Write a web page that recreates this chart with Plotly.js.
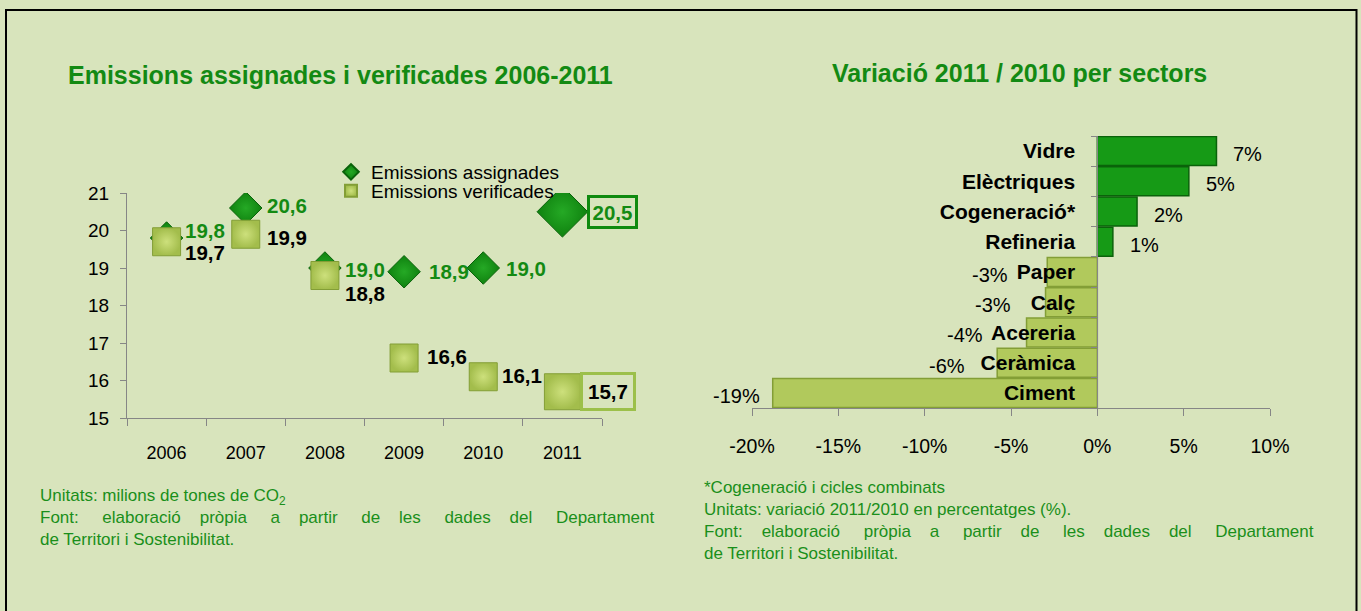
<!DOCTYPE html>
<html><head><meta charset="utf-8">
<script src="https://cdn.plot.ly/plotly-3.0.1.min.js"></script>
<style>html,body{margin:0;padding:0;background:#d8e4bc;} #chart{width:1361px;height:611px;}</style>
</head><body><div id="chart"></div>
<script>
// ---------- data ----------
const years = ['2006', '2007', '2008', '2009', '2010', '2011'];
const assignades = [19.8, 20.6, 19.0, 18.9, 19.0, 20.5];
const verificades = [19.7, 19.9, 18.8, 16.6, 16.1, 15.7];
const yTicks = [15, 16, 17, 18, 19, 20, 21];

const sectors = ['Vidre', 'Elèctriques', 'Cogeneració*', 'Refineria', 'Paper', 'Calç', 'Acereria', 'Ceràmica', 'Ciment'];
const variacio = [6.9, 5.3, 2.3, 0.9, -2.9, -3.0, -4.1, -5.8, -18.8];
const xTicks = [-20, -15, -10, -5, 0, 5, 10];

const titleLeft = 'Emissions assignades i verificades 2006-2011';
const titleRight = 'Variació 2011 / 2010 per sectors';
const notesLeft = ['Unitats: milions de tones de CO<sub>2</sub>',
  'Font: elaboració pròpia a partir de les dades del Departament',
  'de Territori i Sostenibilitat.'];
const notesRight = ['*Cogeneració i cicles combinats',
  'Unitats: variació 2011/2010 en percentatges (%).',
  'Font: elaboració pròpia a partir de les dades del Departament',
  'de Territori i Sostenibilitat.'];

// ---------- styles / layout helpers ----------
const W = 1361, H = 611;
const FONT = 'Liberation Sans, Arial, sans-serif';
const DARK = '#0f820f', DARK_LINE = '#0a620a', DARK_HI = '#25a925';
const LIGHT = '#a3bd4c', LIGHT_LINE = '#839e36', LIGHT_HI = '#cde07c';
const BAR_DARK = '#169a16', BAR_LIGHT = '#b1c95c';
const TXT_GREEN = '#138a13', AXIS = '#868686';
const px = v => v / W, py = v => 1 - v / H;

const diamondSize = [25, 25, 25, 25, 25, 39];
const squareSize = [28, 28, 28, 28, 28, 36];
const aShift = [[16, 7], [19, 2], [18, -1], [23, 0], [21, 0], [25, 0]];
const vShift = [[16, -11], [19, -3], [18, -18], [21, 2], [17, 1], [18, 0]];
const negShift = [0, 0, 0, 0, -37, -33, -42, -30, -11];

const fmt = v => v.toFixed(1).replace('.', ',');

function justify(text, width, fontCss) {
  const c = document.createElement('canvas').getContext('2d');
  c.font = fontCss;
  const words = text.split(' ');
  const nat = c.measureText(text).width;
  const sp = c.measureText('\u00a0').width;
  const gaps = words.length - 1;
  const extra = Math.max(0, (width - nat) / sp);
  let out = words[0], acc = 0, used = 0;
  for (let i = 1; i < words.length; i++) {
    acc += extra / gaps;
    const n = Math.round(acc) - used;
    used += n;
    out += ' ' + '\u00a0'.repeat(n) + words[i];
  }
  return out;
}

const NOTE_SIZE = 17;
const noteCss = NOTE_SIZE + 'px "Liberation Sans"';
const leftNoteText = [notesLeft[0], justify(notesLeft[1], 612, noteCss), notesLeft[2]].join('<br>');
const rightNoteText = [notesRight[0], notesRight[1], justify(notesRight[2], 609, noteCss), notesRight[3]].join('<br>');

// ---------- traces ----------
const traces = [
  {
    type: 'scatter', mode: 'markers', name: 'Emissions assignades',
    x: years, y: assignades, xaxis: 'x', yaxis: 'y', legend: 'legend',
    marker: { symbol: 'diamond', size: diamondSize, color: DARK, opacity: 1,
      gradient: { type: 'radial', color: DARK_HI },
      line: { color: DARK_LINE, width: 1 } },
    hoverinfo: 'skip'
  },
  {
    type: 'scatter', mode: 'markers', name: 'Emissions verificades',
    x: years, y: verificades, xaxis: 'x', yaxis: 'y', legend: 'legend2',
    marker: { symbol: 'square', size: squareSize, color: LIGHT, opacity: 1,
      gradient: { type: 'radial', color: LIGHT_HI },
      line: { color: LIGHT_LINE, width: 1 } },
    hoverinfo: 'skip'
  },
  {
    type: 'bar', orientation: 'h', x: variacio, y: sectors, xaxis: 'x2', yaxis: 'y2',
    showlegend: false,
    marker: { color: variacio.map(v => v >= 0 ? BAR_DARK : BAR_LIGHT),
      line: { color: variacio.map(v => v >= 0 ? DARK_LINE : LIGHT_LINE), width: 1.5 } },
    hoverinfo: 'skip'
  }
];

// ---------- annotations ----------
const annotations = [];
annotations.push({ xref: 'paper', yref: 'paper', x: px(340), y: py(75), xanchor: 'center', yanchor: 'middle',
  text: '<b>' + titleLeft + '</b>', showarrow: false, font: { family: FONT, size: 25, color: TXT_GREEN } });
annotations.push({ xref: 'paper', yref: 'paper', x: px(1019), y: py(73), xanchor: 'center', yanchor: 'middle',
  text: '<b>' + titleRight + '</b>', showarrow: false, font: { family: FONT, size: 25, color: TXT_GREEN } });
annotations.push({ xref: 'paper', yref: 'paper', x: px(38), y: py(484), xanchor: 'left', yanchor: 'top', align: 'left',
  text: leftNoteText, showarrow: false, font: { family: FONT, size: NOTE_SIZE, color: '#1a8f1a' } });
annotations.push({ xref: 'paper', yref: 'paper', x: px(702), y: py(476), xanchor: 'left', yanchor: 'top', align: 'left',
  text: rightNoteText, showarrow: false, font: { family: FONT, size: NOTE_SIZE, color: '#1a8f1a' } });

years.forEach((yr, i) => {
  const last = i === years.length - 1;
  const a = { xref: 'x', yref: 'y', x: i, y: assignades[i], xanchor: 'left', yanchor: 'middle',
    xshift: aShift[i][0], yshift: aShift[i][1], showarrow: false,
    text: '<b>' + fmt(assignades[i]) + '</b>', font: { family: FONT, size: 20.5, color: TXT_GREEN } };
  if (last) { a.bordercolor = '#0f8a0f'; a.borderwidth = 3; a.borderpad = 2.5; }
  annotations.push(a);
  const b = { xref: 'x', yref: 'y', x: i, y: verificades[i], xanchor: 'left', yanchor: 'middle',
    xshift: vShift[i][0], yshift: vShift[i][1], showarrow: false,
    text: '<b>' + fmt(verificades[i]) + '</b>', font: { family: FONT, size: 20.5, color: '#000' } };
  if (last) { b.bordercolor = '#9cc04a'; b.borderwidth = 3; b.borderpad = 5; }
  annotations.push(b);
});

variacio.forEach((v, i) => {
  const pos = v >= 0;
  annotations.push({ xref: 'x2', yref: 'y2', x: v, y: i, showarrow: false,
    xanchor: pos ? 'left' : 'right', yanchor: 'middle', xshift: pos ? 15 : negShift[i], yshift: -3,
    text: Math.round(v) + '%', font: { family: FONT, size: 20, color: '#000' } });
});

// ---------- layout ----------
const zeroPos = px(752) + (0 - xTicks[0]) / (xTicks[xTicks.length - 1] - xTicks[0]) * (px(1270) - px(752));

const legendBase = { x: px(331), xanchor: 'left', yanchor: 'middle', bgcolor: 'rgba(0,0,0,0)',
  itemsizing: 'constant', itemwidth: 30, font: { family: FONT, size: 19, color: '#000' } };

const layout = {
  width: W, height: H,
  margin: { l: 0, r: 0, t: 0, b: 0, pad: 0 },
  paper_bgcolor: '#d8e4bc', plot_bgcolor: 'rgba(0,0,0,0)',
  font: { family: FONT, color: '#000' },
  showlegend: true,
  legend: Object.assign({}, legendBase, { y: py(172) }),
  legend2: Object.assign({}, legendBase, { y: py(191) }),
  xaxis: {
    domain: [px(127), px(602)], anchor: 'y', type: 'category', categoryarray: years,
    range: [-0.5, years.length - 0.5], tickson: 'boundaries', ticks: 'outside', ticklen: 7,
    tickcolor: AXIS, showline: true, linecolor: AXIS, linewidth: 1, showgrid: false, zeroline: false,
    tickfont: { family: FONT, size: 18, color: '#000' }, ticklabelstandoff: 18, automargin: false
  },
  yaxis: {
    domain: [py(418), py(193)], anchor: 'x', range: [15, 21], tickvals: yTicks, ticktext: yTicks.map(String),
    ticks: 'outside', ticklen: 6, tickcolor: AXIS, showline: true, linecolor: AXIS, linewidth: 1,
    showgrid: false, zeroline: false, tickfont: { family: FONT, size: 19, color: '#000' },
    ticklabelstandoff: 7, automargin: false
  },
  xaxis2: {
    domain: [px(752), px(1270)], anchor: 'y2', range: [xTicks[0], xTicks[xTicks.length - 1]],
    tickvals: xTicks, ticktext: xTicks.map(v => v + '%'),
    ticks: 'outside', ticklen: 7, tickcolor: AXIS, showline: true, linecolor: AXIS, linewidth: 1,
    showgrid: false, zeroline: false, tickfont: { family: FONT, size: 19.5, color: '#000' },
    ticklabelstandoff: 14, automargin: false
  },
  yaxis2: {
    domain: [py(408), py(136)], anchor: 'free', position: zeroPos, type: 'category',
    categoryarray: sectors, range: [sectors.length - 0.5, -0.5],
    tickson: 'boundaries', ticks: 'outside', ticklen: 6, tickcolor: AXIS,
    showline: true, linecolor: AXIS, linewidth: 1, showgrid: false, zeroline: false,
    tickfont: { family: FONT, size: 21, color: '#000', weight: 'bold' },
    ticklabelstandoff: 18, automargin: false
  },
  bargap: 0.04,
  shapes: [
    { type: 'rect', xref: 'paper', yref: 'paper', x0: px(6), x1: px(1356.5), y0: -0.02, y1: py(10),
      line: { color: '#000', width: 2 }, fillcolor: 'rgba(0,0,0,0)', layer: 'above' }
  ],
  annotations: annotations
};

Plotly.newPlot('chart', traces, layout, { displayModeBar: false, staticPlot: true });
</script>
</body></html>
